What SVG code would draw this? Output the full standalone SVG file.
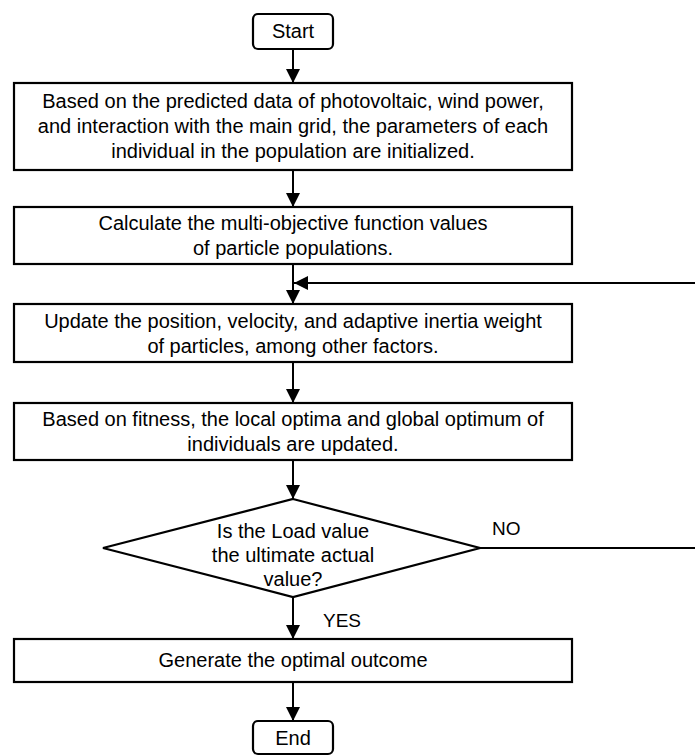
<svg xmlns="http://www.w3.org/2000/svg" width="695" height="756" viewBox="0 0 695 756">
<style>
.b{fill:#fff;stroke:#000;stroke-width:2.2}
.t{font-family:"Liberation Sans",Arial,sans-serif;font-size:20px;fill:#000;text-anchor:middle}
.l{font-family:"Liberation Sans",Arial,sans-serif;font-size:19px;fill:#000}
.c{fill:none;stroke:#000;stroke-width:2}
</style>
<defs>
<marker id="a" viewBox="0 0 14 14" refX="14" refY="7" markerWidth="14" markerHeight="14" markerUnits="userSpaceOnUse" orient="auto">
<path d="M0,0 L14,7 L0,14 Z" fill="#000"/>
</marker>
</defs>
<g id="connectors">
<line class="c" x1="293" y1="49" x2="293" y2="83" marker-end="url(#a)"/>
<line class="c" x1="293" y1="170" x2="293" y2="207" marker-end="url(#a)"/>
<line class="c" x1="293" y1="264" x2="293" y2="304" marker-end="url(#a)"/>
<line class="c" x1="293" y1="362" x2="293" y2="403" marker-end="url(#a)"/>
<line class="c" x1="293" y1="460" x2="293" y2="499" marker-end="url(#a)"/>
<line class="c" x1="293" y1="597" x2="293" y2="639" marker-end="url(#a)"/>
<line class="c" x1="293" y1="682" x2="293" y2="721" marker-end="url(#a)"/>
<path class="c" d="M480,548 H698 V283 H294" marker-end="url(#a)"/>
<text class="l" x="492" y="535">NO</text>
<text class="l" x="323" y="627">YES</text>
</g>
<g id="start">
<rect class="b" x="253" y="14" width="80" height="35" rx="5"/>
<text class="t" x="293" y="38">Start</text>
</g>
<g id="init">
<rect class="b" x="14" y="83" width="558" height="87"/>
<text class="t" x="293" y="108">Based on the predicted data of photovoltaic, wind power,</text>
<text class="t" x="293" y="133">and interaction with the main grid, the parameters of each</text>
<text class="t" x="293" y="158">individual in the population are initialized.</text>
</g>
<g id="calc">
<rect class="b" x="14" y="207" width="558" height="57"/>
<text class="t" x="293" y="230">Calculate the multi-objective function values</text>
<text class="t" x="293" y="255">of particle populations.</text>
</g>
<g id="update">
<rect class="b" x="14" y="304" width="558" height="58"/>
<text class="t" x="293" y="328">Update the position, velocity, and adaptive inertia weight</text>
<text class="t" x="293" y="353">of particles, among other factors.</text>
</g>
<g id="fitness">
<rect class="b" x="14" y="403" width="558" height="57"/>
<text class="t" x="293" y="426">Based on fitness, the local optima and global optimum of</text>
<text class="t" x="293" y="451">individuals are updated.</text>
</g>
<g id="decision">
<polygon class="b" points="293,499 480,548 293,597 103,548"/>
<text class="t" x="293" y="538">Is the Load value</text>
<text class="t" x="293" y="562">the ultimate actual</text>
<text class="t" x="293" y="586">value?</text>
</g>
<g id="generate">
<rect class="b" x="14" y="639" width="558" height="43"/>
<text class="t" x="293" y="667">Generate the optimal outcome</text>
</g>
<g id="end">
<rect class="b" x="253" y="721" width="80" height="33" rx="5"/>
<text class="t" x="293" y="745">End</text>
</g>
</svg>
